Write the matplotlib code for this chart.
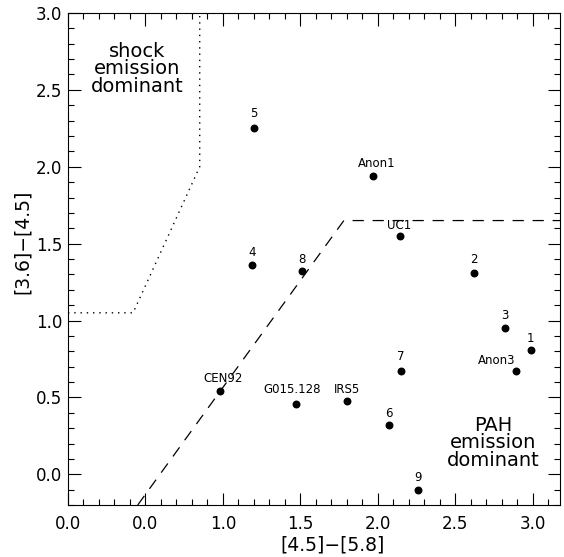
import numpy as np
import matplotlib
matplotlib.use("Agg")
import matplotlib.pyplot as plt
from matplotlib.ticker import MultipleLocator, FixedLocator, FixedFormatter

plt.rcParams["font.family"] = ["DejaVu Sans"]

# source colours
names = ["5", "Anon1", "4", "8", "UC1", "2", "3", "1", "Anon3", "7",
         "CEN92", "G015.128", "IRS5", "6", "9"]
x45_58 = [1.20, 1.97, 1.19, 1.51, 2.14, 2.62, 2.82, 2.985, 2.89, 2.15,
          0.98, 1.47, 1.80, 2.07, 2.26]
y36_45 = [2.25, 1.94, 1.36, 1.32, 1.55, 1.31, 0.95, 0.805, 0.67, 0.67,
          0.54, 0.46, 0.476, 0.32, -0.10]
# label offsets (pixels)
lab_dx = [0, 3, 0, 0, 0, 0, 0, 0, -19, 0, 3, -4, 0, 0, 0]
lab_dy = [15, 12, 13, 12, 10, 13, 13, 12, 11, 15, 13, 14, 12, 12, 12]

# boundaries
shock_x = [0.0, 0.42, 0.85, 0.85]
shock_y = [1.05, 1.05, 2.0, 3.0]
pah_x = [0.45, 1.78, 3.3]
pah_y = [-0.2, 1.65, 1.65]

xtick_vals = [0.0, 0.5, 1.0, 1.5, 2.0, 2.5, 3.0]
xtick_labs = ["0.0", "0.0", "1.0", "1.5", "2.0", "2.5", "3.0"]

fig = plt.figure(figsize=(5.64, 5.57), dpi=100)
ax = fig.add_axes([68/564, 52/557, 492/564, 492/557])

ax.plot(shock_x, shock_y, color="k", linestyle=(0, (1, 3.5)), linewidth=1.0)
ax.plot(pah_x, pah_y, color="k", linestyle=(0, (9, 7)), linewidth=0.9)
ax.scatter(x45_58, y36_45, s=22, color="k", zorder=3)

for n, xx, yy, dx, dy in zip(names, x45_58, y36_45, lab_dx, lab_dy):
    ax.annotate(n, (xx, yy), xytext=(dx, dy), textcoords="offset pixels",
                ha="center", va="center", fontsize=8.5)

ax.text((137-68)/492, (505-69)/492, "shock\nemission\ndominant",
        transform=ax.transAxes, ha="center", va="center", fontsize=14,
        linespacing=0.9)
ax.text((493-68)/492, (505-443)/492, "PAH\nemission\ndominant",
        transform=ax.transAxes, ha="center", va="center", fontsize=14,
        linespacing=0.9)

ax.set_xlim(0, 3.175)
ax.set_ylim(-0.2, 3.0)
ax.xaxis.set_major_locator(FixedLocator(xtick_vals))
ax.xaxis.set_major_formatter(FixedFormatter(xtick_labs))
ax.xaxis.set_minor_locator(MultipleLocator(0.1))
ax.yaxis.set_major_locator(MultipleLocator(0.5))
ax.yaxis.set_minor_locator(MultipleLocator(0.1))
ax.tick_params(which="both", direction="in", top=True, right=True, width=0.8)
ax.tick_params(which="major", length=9)
ax.tick_params(which="minor", length=4.5)
ax.tick_params(axis="x", which="major", pad=7, labelsize=12)
ax.tick_params(axis="y", which="major", pad=4, labelsize=12)
for s in ax.spines.values():
    s.set_linewidth(0.8)

ax.set_xlabel("[4.5]\u2212[5.8]", fontsize=13.5)
ax.set_ylabel("[3.6]\u2212[4.5]", fontsize=13.5)
ax.xaxis.set_label_coords((333-68)/492, -40/492)
ax.yaxis.set_label_coords(-46/492, (505-242)/492)
ax.xaxis.label.set_va("center")
ax.yaxis.label.set_va("center")

fig.savefig("out.png", dpi=100)
